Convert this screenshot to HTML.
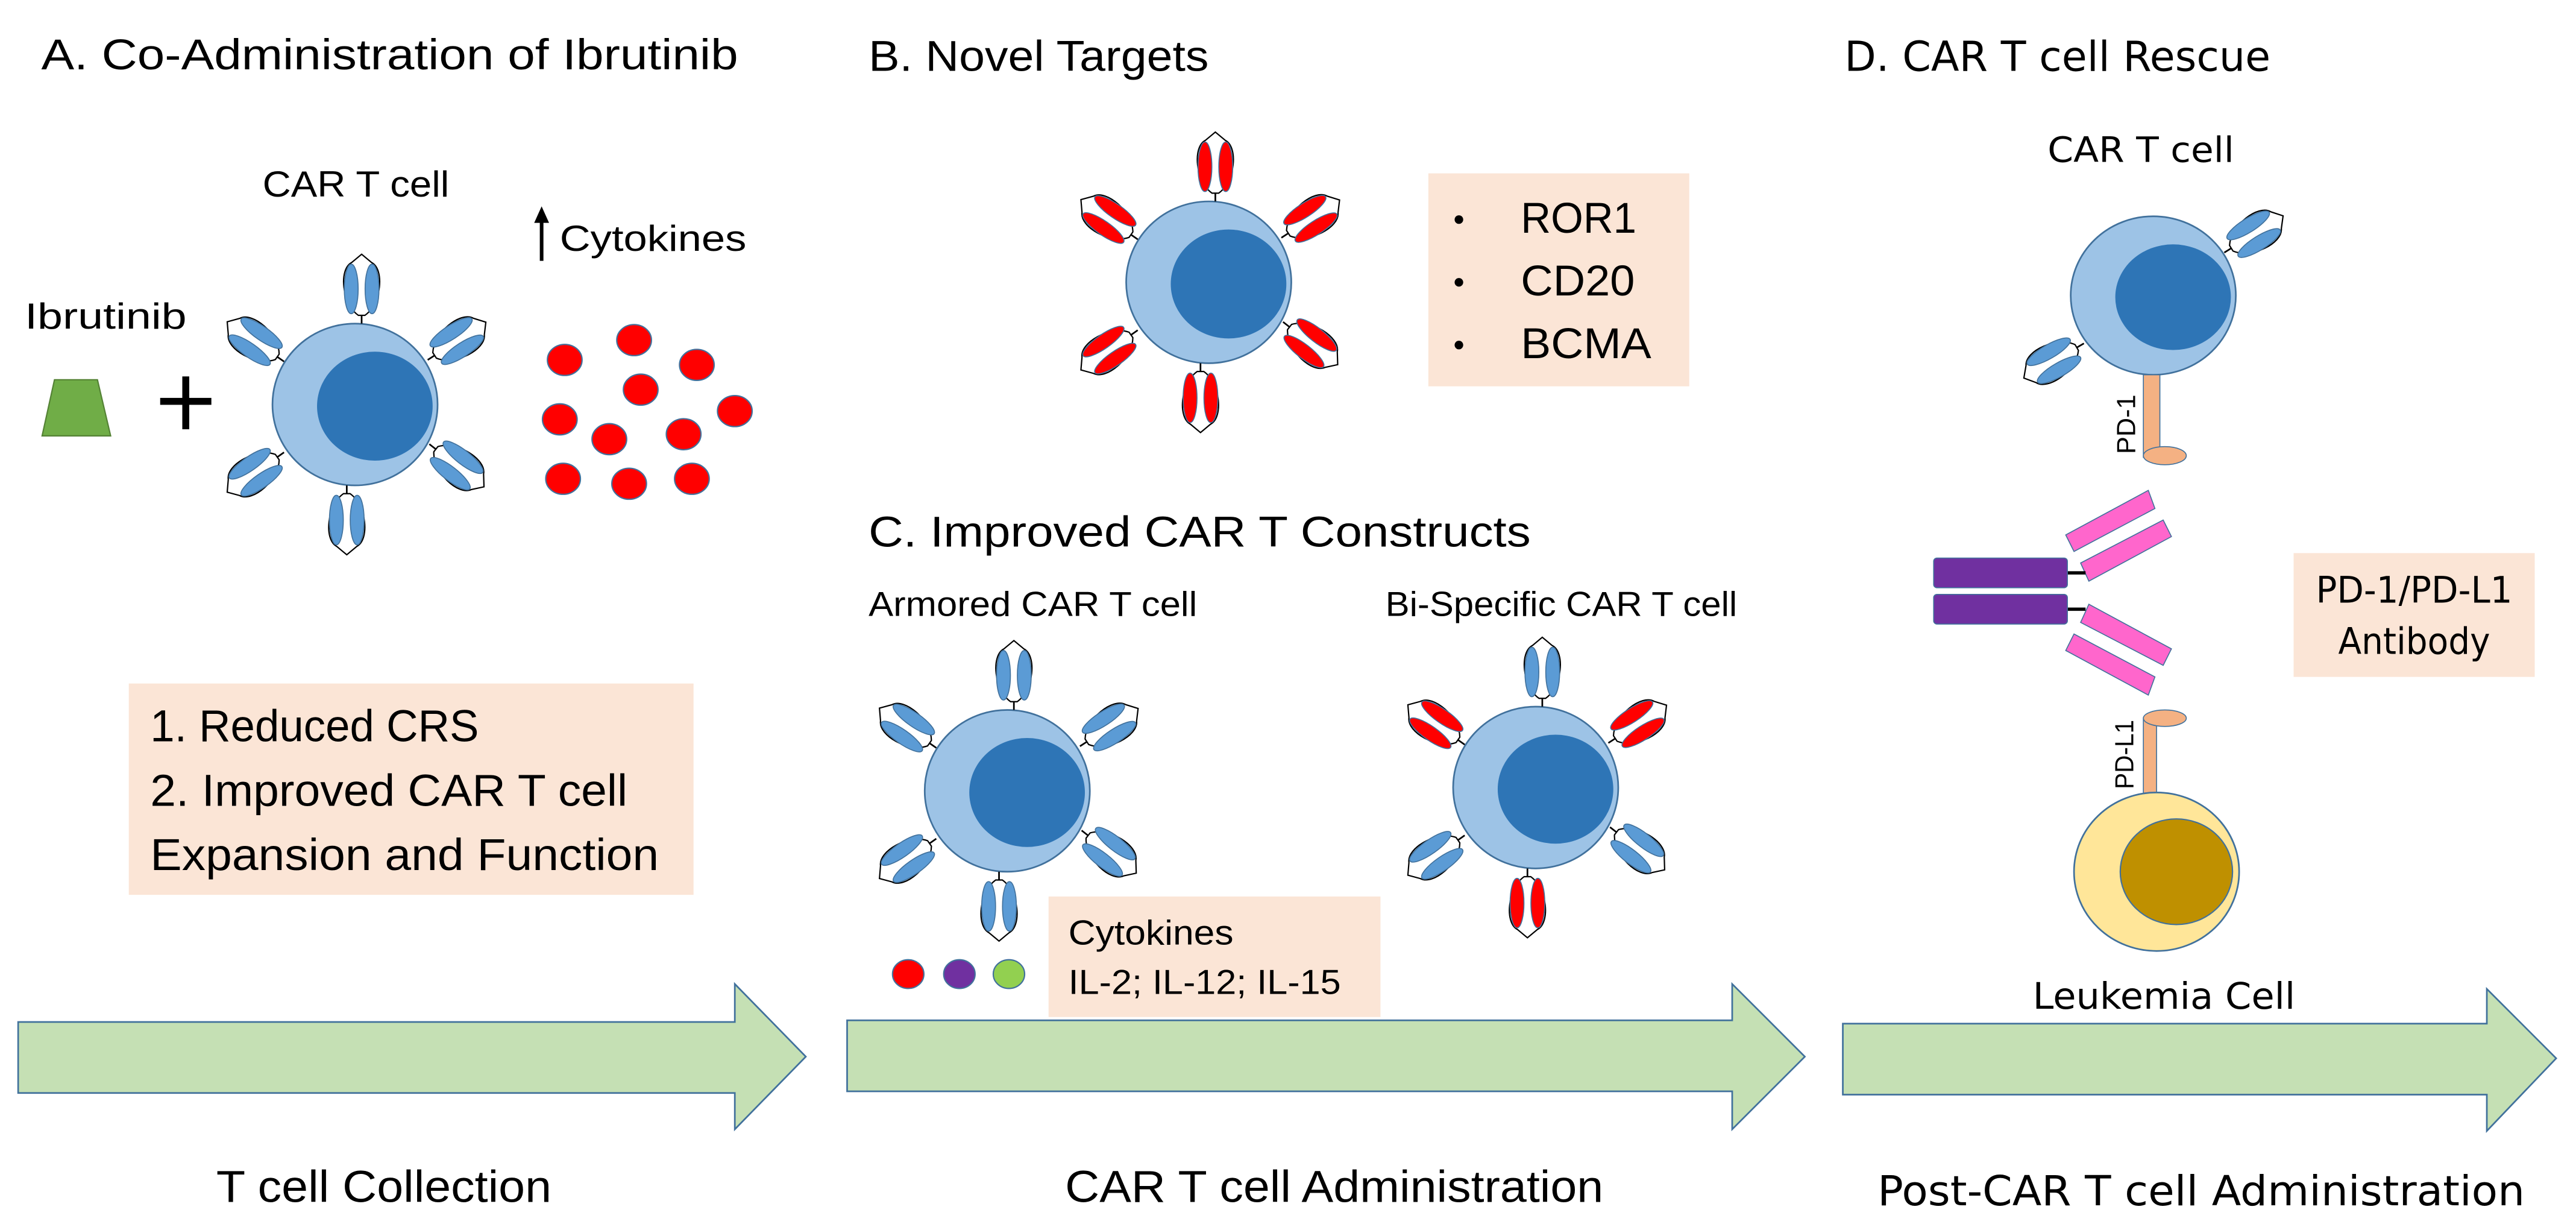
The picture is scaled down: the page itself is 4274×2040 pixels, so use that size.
<!DOCTYPE html>
<html><head><meta charset="utf-8"><style>
html,body{margin:0;padding:0;background:#fff;width:4274px;height:2040px;overflow:hidden}
svg{display:block}
.c{font-family:"Liberation Sans",sans-serif;fill:#000}
.d{font-family:"DejaVu Sans",sans-serif;fill:#000}
</style></head><body>
<svg width="4274" height="2040" viewBox="0 0 1560 745" preserveAspectRatio="none" xmlns="http://www.w3.org/2000/svg" xmlns:xlink="http://www.w3.org/1999/xlink">
<defs>
<g id="ab">
<line x1="0" y1="0" x2="0" y2="-6" stroke="#000" stroke-width="1"/>
<path d="M-2,-5 C-12,-12 -14,-33 -6,-37 L0,-42 L6,-37 C14,-33 12,-12 2,-5 Z" fill="#fff" stroke="#000" stroke-width="0.8"/>
<ellipse cx="-6.3" cy="-21" rx="4.2" ry="15" fill="#5b9bd5" stroke="#41719c" stroke-width="0.6"/>
<ellipse cx="6.3" cy="-21" rx="4.2" ry="15" fill="#5b9bd5" stroke="#41719c" stroke-width="0.6"/>
</g>
<g id="abr">
<line x1="0" y1="0" x2="0" y2="-6" stroke="#000" stroke-width="1"/>
<path d="M-2,-5 C-12,-12 -14,-33 -6,-37 L0,-42 L6,-37 C14,-33 12,-12 2,-5 Z" fill="#fff" stroke="#000" stroke-width="0.8"/>
<ellipse cx="-6.3" cy="-21" rx="4.2" ry="15" fill="#ff0000" stroke="#41719c" stroke-width="0.6"/>
<ellipse cx="6.3" cy="-21" rx="4.2" ry="15" fill="#ff0000" stroke="#41719c" stroke-width="0.6"/>
</g>
<g id="cell">
<ellipse cx="0" cy="0" rx="50" ry="49" fill="#9dc3e6" stroke="#41719c" stroke-width="1"/>
<ellipse cx="12" cy="1" rx="35" ry="33" fill="#2e75b6"/>
</g>
</defs>

<!-- A -->
<text class="c" x="25" y="42" font-size="26" textLength="422" lengthAdjust="spacingAndGlyphs">A. Co-Administration of Ibrutinib</text>
<text class="c" x="159" y="119" font-size="22" textLength="113" lengthAdjust="spacingAndGlyphs">CAR T cell</text>
<line x1="328" y1="158" x2="328" y2="132" stroke="#000" stroke-width="2.2"/>
<polygon points="323.5,135 328,125 332.5,135" fill="#000"/>
<text class="c" x="339" y="152" font-size="22" textLength="113" lengthAdjust="spacingAndGlyphs">Cytokines</text>
<text class="c" x="15" y="199" font-size="22" textLength="98" lengthAdjust="spacingAndGlyphs">Ibrutinib</text>
<polygon points="33,230 59,230 67,264 25.5,264" fill="#70ad47" stroke="#548235" stroke-width="0.8"/>
<rect x="97" y="241" width="31" height="4.2" fill="#000"/>
<rect x="110.4" y="228" width="4.2" height="32" fill="#000"/>

<use xlink:href="#cell" transform="translate(215,245)"/>
<use xlink:href="#ab" transform="translate(219,196) rotate(0)"/>
<use xlink:href="#ab" transform="translate(210,294) rotate(180)"/>
<use xlink:href="#ab" transform="translate(172,219) rotate(-55)"/>
<use xlink:href="#ab" transform="translate(259,218) rotate(57)"/>
<use xlink:href="#ab" transform="translate(172,274) rotate(-125)"/>
<use xlink:href="#ab" transform="translate(260,269) rotate(128)"/>

<g fill="#ff0000" stroke="#41719c" stroke-width="0.8">
<ellipse cx="342" cy="218" rx="10.5" ry="9.4"/>
<ellipse cx="384" cy="206" rx="10.5" ry="9.4"/>
<ellipse cx="422" cy="221" rx="10.5" ry="9.4"/>
<ellipse cx="388" cy="236" rx="10.5" ry="9.4"/>
<ellipse cx="339" cy="254" rx="10.5" ry="9.4"/>
<ellipse cx="369" cy="266" rx="10.5" ry="9.4"/>
<ellipse cx="414" cy="263" rx="10.5" ry="9.4"/>
<ellipse cx="445" cy="249" rx="10.5" ry="9.4"/>
<ellipse cx="341" cy="290" rx="10.5" ry="9.4"/>
<ellipse cx="381" cy="293" rx="10.5" ry="9.4"/>
<ellipse cx="419" cy="290" rx="10.5" ry="9.4"/>
</g>

<rect x="78" y="414" width="342" height="128" fill="#fbe5d6"/>
<text class="c" x="91" y="449" font-size="27" textLength="199" lengthAdjust="spacingAndGlyphs">1. Reduced CRS</text>
<text class="c" x="91" y="488" font-size="27" textLength="289" lengthAdjust="spacingAndGlyphs">2. Improved CAR T cell</text>
<text class="c" x="91" y="527" font-size="27" textLength="308" lengthAdjust="spacingAndGlyphs">Expansion and Function</text>

<polygon points="11,619 445,619 445,596 488,640 445,684 445,662 11,662" fill="#c5e0b4" stroke="#41719c" stroke-width="1"/>
<text class="c" x="131" y="728" font-size="27" textLength="203" lengthAdjust="spacingAndGlyphs">T cell Collection</text>

<!-- B -->
<text class="c" x="526" y="43" font-size="26" textLength="206" lengthAdjust="spacingAndGlyphs">B. Novel Targets</text>
<use xlink:href="#cell" transform="translate(732,171)"/>
<use xlink:href="#abr" transform="translate(736,122) rotate(0)"/>
<use xlink:href="#abr" transform="translate(727,220) rotate(180)"/>
<use xlink:href="#abr" transform="translate(689,145) rotate(-55)"/>
<use xlink:href="#abr" transform="translate(776,144) rotate(57)"/>
<use xlink:href="#abr" transform="translate(689,200) rotate(-125)"/>
<use xlink:href="#abr" transform="translate(777,195) rotate(128)"/>

<rect x="865" y="105" width="158" height="129" fill="#fbe5d6"/>
<circle cx="883.5" cy="133" r="2.6" fill="#000"/>
<circle cx="883.5" cy="171" r="2.6" fill="#000"/>
<circle cx="883.5" cy="209" r="2.6" fill="#000"/>
<text class="c" x="921" y="141" font-size="26" textLength="70" lengthAdjust="spacingAndGlyphs">ROR1</text>
<text class="c" x="921" y="179" font-size="26" textLength="69" lengthAdjust="spacingAndGlyphs">CD20</text>
<text class="c" x="921" y="217" font-size="26" textLength="79" lengthAdjust="spacingAndGlyphs">BCMA</text>

<!-- C -->
<text class="c" x="526" y="331" font-size="26" textLength="401" lengthAdjust="spacingAndGlyphs">C. Improved CAR T Constructs</text>
<text class="c" x="526" y="373" font-size="21" textLength="199" lengthAdjust="spacingAndGlyphs">Armored CAR T cell</text>
<text class="c" x="839" y="373" font-size="21" textLength="213" lengthAdjust="spacingAndGlyphs">Bi-Specific CAR T cell</text>

<use xlink:href="#cell" transform="translate(610,479)"/>
<use xlink:href="#ab" transform="translate(614,430) rotate(0)"/>
<use xlink:href="#ab" transform="translate(605,528) rotate(180)"/>
<use xlink:href="#ab" transform="translate(567,453) rotate(-55)"/>
<use xlink:href="#ab" transform="translate(654,452) rotate(57)"/>
<use xlink:href="#ab" transform="translate(567,508) rotate(-125)"/>
<use xlink:href="#ab" transform="translate(655,503) rotate(128)"/>

<use xlink:href="#cell" transform="translate(930,477)"/>
<use xlink:href="#ab" transform="translate(934,428) rotate(0)"/>
<use xlink:href="#abr" transform="translate(925,526) rotate(180)"/>
<use xlink:href="#abr" transform="translate(887,451) rotate(-55)"/>
<use xlink:href="#abr" transform="translate(974,450) rotate(57)"/>
<use xlink:href="#ab" transform="translate(887,506) rotate(-125)"/>
<use xlink:href="#ab" transform="translate(975,501) rotate(128)"/>

<ellipse cx="550" cy="590" rx="9.5" ry="8.7" fill="#ff0000" stroke="#41719c" stroke-width="0.8"/>
<ellipse cx="581" cy="590" rx="9.5" ry="8.7" fill="#7030a0" stroke="#41719c" stroke-width="0.8"/>
<ellipse cx="611" cy="590" rx="9.5" ry="8.7" fill="#92d050" stroke="#41719c" stroke-width="0.8"/>

<rect x="635" y="543" width="201" height="73" fill="#fbe5d6"/>
<text class="c" x="647" y="572" font-size="21" textLength="100" lengthAdjust="spacingAndGlyphs">Cytokines</text>
<text class="c" x="647" y="602" font-size="21" textLength="165" lengthAdjust="spacingAndGlyphs">IL-2; IL-12; IL-15</text>

<polygon points="513,618 1049,618 1049,596 1093,640 1049,684 1049,661 513,661" fill="#c5e0b4" stroke="#41719c" stroke-width="1"/>
<text class="c" x="645" y="728" font-size="27" textLength="326" lengthAdjust="spacingAndGlyphs">CAR T cell Administration</text>

<!-- D -->
<text class="d" x="1117" y="43" font-size="25" textLength="258" lengthAdjust="spacingAndGlyphs">D. CAR T cell Rescue</text>
<text class="d" x="1240" y="98" font-size="21" textLength="113" lengthAdjust="spacingAndGlyphs">CAR T cell</text>

<ellipse cx="1304" cy="179" rx="50" ry="48" fill="#9dc3e6" stroke="#41719c" stroke-width="1"/>
<ellipse cx="1316" cy="180" rx="35" ry="32" fill="#2e75b6"/>
<use xlink:href="#ab" transform="translate(1347,153) rotate(58)"/>
<use xlink:href="#ab" transform="translate(1262,208) rotate(-120)"/>

<rect x="1298" y="227" width="10" height="50" fill="#f4b183" stroke="#41719c" stroke-width="0.6"/>
<ellipse cx="1311" cy="276" rx="13" ry="5.5" fill="#f4b183" stroke="#41719c" stroke-width="0.6"/>
<text class="c" transform="translate(1293,257) rotate(-90)" font-size="16" text-anchor="middle" textLength="36" lengthAdjust="spacingAndGlyphs">PD-1</text>

<polygon points="1251,324 1301,297 1305,308 1256,334" fill="#ff66cc" stroke="#41719c" stroke-width="0.6"/>
<polygon points="1260,341 1310,315 1315,325 1265,352" fill="#ff66cc" stroke="#41719c" stroke-width="0.6"/>
<polygon points="1260,377 1310,403 1315,393 1265,366" fill="#ff66cc" stroke="#41719c" stroke-width="0.6"/>
<polygon points="1251,394 1301,421 1305,410 1256,384" fill="#ff66cc" stroke="#41719c" stroke-width="0.6"/>
<line x1="1250" y1="347" x2="1263" y2="347" stroke="#000" stroke-width="2"/>
<line x1="1250" y1="369" x2="1263" y2="369" stroke="#000" stroke-width="2"/>
<rect x="1171" y="338" width="81" height="18" rx="2" fill="#7030a0" stroke="#41719c" stroke-width="0.6"/>
<rect x="1171" y="360" width="81" height="18" rx="2" fill="#7030a0" stroke="#41719c" stroke-width="0.6"/>

<rect x="1298" y="435" width="8" height="46" fill="#f4b183" stroke="#41719c" stroke-width="0.6"/>
<ellipse cx="1311" cy="435" rx="13" ry="5" fill="#f4b183" stroke="#41719c" stroke-width="0.6"/>
<text class="c" transform="translate(1292,457) rotate(-90)" font-size="16" text-anchor="middle" textLength="42" lengthAdjust="spacingAndGlyphs">PD-L1</text>

<ellipse cx="1306" cy="528" rx="50" ry="48" fill="#ffe699" stroke="#41719c" stroke-width="1"/>
<ellipse cx="1318" cy="528" rx="34" ry="32" fill="#bf9000" stroke="#41719c" stroke-width="0.8"/>

<rect x="1389" y="335" width="146" height="75" fill="#fbe5d6"/>
<text class="d" x="1462" y="365" font-size="22" text-anchor="middle" textLength="119" lengthAdjust="spacingAndGlyphs">PD-1/PD-L1</text>
<text class="d" x="1462" y="396" font-size="22" text-anchor="middle" textLength="92" lengthAdjust="spacingAndGlyphs">Antibody</text>

<text class="d" x="1231" y="611" font-size="22" textLength="159" lengthAdjust="spacingAndGlyphs">Leukemia Cell</text>

<polygon points="1116,620 1506,620 1506,599 1548,641 1506,685 1506,663 1116,663" fill="#c5e0b4" stroke="#41719c" stroke-width="1"/>
<text class="d" x="1137" y="730" font-size="25" textLength="392" lengthAdjust="spacingAndGlyphs">Post-CAR T cell Administration</text>
</svg>
</body></html>
